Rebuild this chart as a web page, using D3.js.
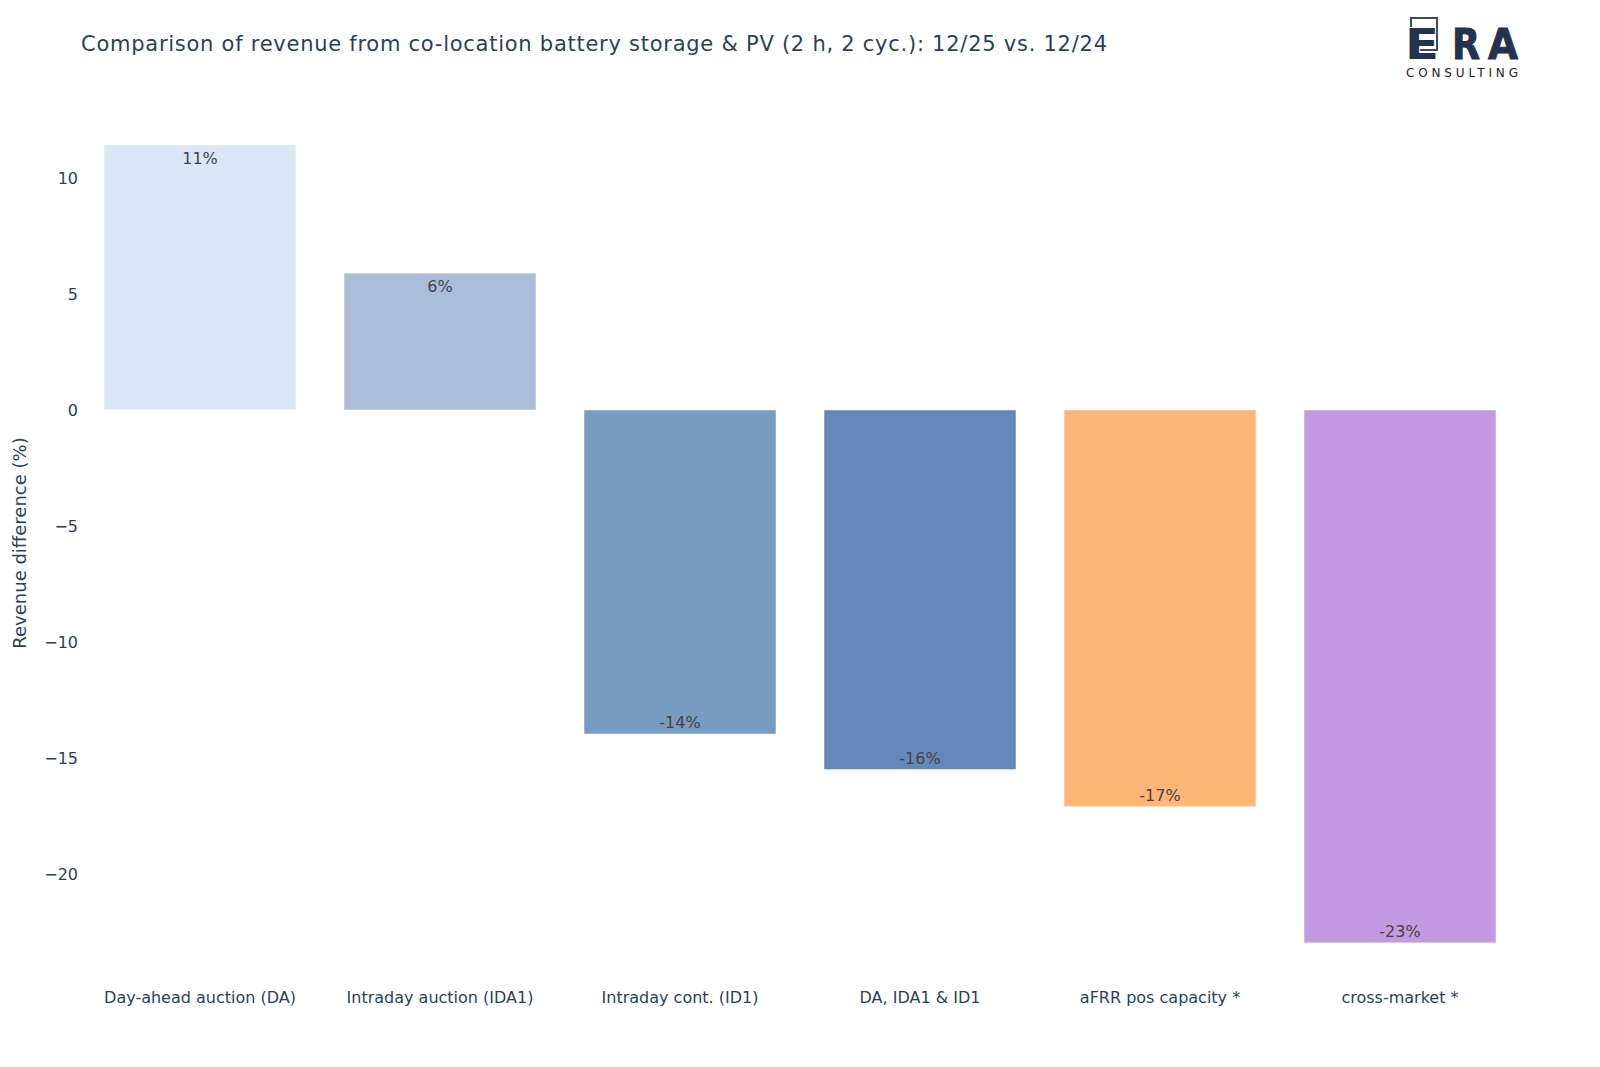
<!DOCTYPE html>
<html>
<head>
<meta charset="utf-8">
<script src="https://cdn.jsdelivr.net/npm/d3@7"></script>
<style>
  body { margin: 0; background: #fff; }
  svg { display: block; font-family: "DejaVu Sans", Verdana, sans-serif; }
</style>
</head>
<body>
<svg id="chart" width="1600" height="1067"></svg>
<script>
// Data
const categories = ["Day-ahead auction (DA)", "Intraday auction (IDA1)", "Intraday cont. (ID1)", "DA, IDA1 & ID1", "aFRR pos capacity *", "cross-market *"];
const values = [11.42, 5.9, -13.97, -15.5, -17.1, -22.97];
const labels = ["11%", "6%", "-14%", "-16%", "-17%", "-23%"];
const colors = ["#dae6f6", "#aabdd9", "#789bc1", "#6487bc", "#ffb578", "#c39ae2"];
const yTicks = [-20, -15, -10, -5, 0, 5, 10];

const titleText = "Comparison of revenue from co-location battery storage & PV (2 h, 2 cyc.): 12/25 vs. 12/24";
const yTitle = "Revenue difference (%)";

// Layout
const margin = { left: 80, right: 80, top: 100, bottom: 81 };
const width = 1600, height = 1067;
const svg = d3.select("#chart");

const x = d3.scaleBand()
  .domain(categories)
  .range([margin.left, width - margin.right])
  .paddingInner(0.2)
  .paddingOuter(0.1);

const y = d3.scaleLinear()
  .domain([-24.83, 13.36])
  .range([height - margin.bottom, margin.top]);

// Title
svg.append("text")
  .attr("x", 81)
  .attr("y", 51)
  .attr("fill", "#2a3f5f")
  .attr("font-size", 21)
  .attr("textLength", 1026)
  .attr("lengthAdjust", "spacing")
  .text(titleText);

// Y axis (no line, no ticks)
const yAxis = svg.append("g")
  .attr("transform", `translate(${margin.left},0)`)
  .call(d3.axisLeft(y).tickValues(yTicks).tickSize(0).tickPadding(2)
    .tickFormat(d => d < 0 ? "\u2212" + Math.abs(d) : d));
yAxis.select(".domain").remove();
yAxis.selectAll("text")
  .attr("fill", "#2a3f5f")
  .attr("font-size", 16)
  .attr("font-family", "DejaVu Sans, Verdana, sans-serif");

svg.append("text")
  .attr("transform", `translate(26,${(margin.top + height - margin.bottom) / 2}) rotate(-90)`)
  .attr("text-anchor", "middle")
  .attr("fill", "#2a3f5f")
  .attr("font-size", 18)
  .text(yTitle);

// X axis labels
const xAxis = svg.append("g")
  .attr("transform", `translate(0,${height - margin.bottom})`)
  .call(d3.axisBottom(x).tickSize(0).tickPadding(6));
xAxis.select(".domain").remove();
xAxis.selectAll("text")
  .attr("fill", "#2a3f5f")
  .attr("font-size", 16)
  .attr("font-family", "DejaVu Sans, Verdana, sans-serif");

// Bars
svg.selectAll("rect.bar")
  .data(values)
  .enter()
  .append("rect")
  .attr("class", "bar")
  .attr("x", (d, i) => x(categories[i]))
  .attr("width", x.bandwidth())
  .attr("y", d => y(Math.max(0, d)))
  .attr("height", d => Math.abs(y(d) - y(0)))
  .attr("fill", (d, i) => colors[i])
  .attr("stroke", "#ffffff")
  .attr("stroke-opacity", 0.5)
  .attr("stroke-width", 1);

// Value labels inside bar ends
svg.selectAll("text.val")
  .data(values)
  .enter()
  .append("text")
  .attr("class", "val")
  .attr("x", (d, i) => x(categories[i]) + x.bandwidth() / 2)
  .attr("y", d => d >= 0 ? y(d) + 19 : y(d) - 6)
  .attr("text-anchor", "middle")
  .attr("fill", "#444444")
  .attr("font-size", 16)
  .text((d, i) => labels[i]);

// Logo
const logo = svg.append("g").attr("fill", "#233250");
logo.append("rect")
  .attr("x", 1411).attr("y", 18).attr("width", 26).attr("height", 32)
  .attr("fill", "none").attr("stroke", "#3a4a68").attr("stroke-width", 2);
const era = [["E", 1405, 34], ["R", 1452, 28], ["A", 1488, 30]];
era.forEach(([ch, px, w]) => {
  logo.append("text")
    .attr("x", px).attr("y", 59)
    .attr("font-size", 43)
    .attr("font-weight", "bold")
    .attr("textLength", w)
    .attr("lengthAdjust", "spacingAndGlyphs")
    .attr("stroke", ch === "E" ? "#ffffff" : "#233250")
    .attr("stroke-width", ch === "E" ? 1.5 : 1)
    .attr("paint-order", "stroke")
    .text(ch);
});
logo.append("text")
  .attr("x", 1406).attr("y", 77)
  .attr("font-size", 12)
  .attr("fill", "#222222")
  .attr("textLength", 112)
  .attr("lengthAdjust", "spacing")
  .text("CONSULTING");
</script>
</body>
</html>
